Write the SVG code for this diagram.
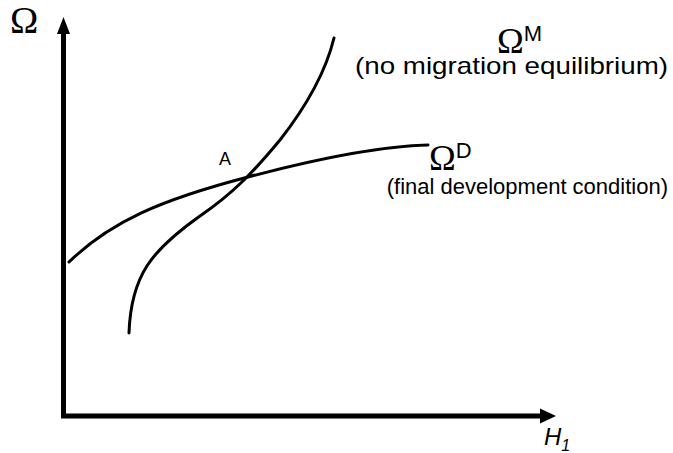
<svg xmlns="http://www.w3.org/2000/svg" width="673" height="453" viewBox="0 0 673 453">
<style>
.axis{stroke:#000;stroke-width:5;fill:none}
.curve{stroke:#000;stroke-width:3;fill:none;stroke-linecap:round}
.sym{font-family:"Liberation Serif","Times New Roman",serif;fill:#000}
.lbl{font-family:"Liberation Sans",Arial,sans-serif;fill:#000}
</style>
<rect width="673" height="453" fill="#fff"/>
<g id="axes">
<path class="axis" d="M63.5,416 L63.5,34"/>
<path d="M57,34 L63.5,17 L70,34 Z" fill="#000"/>
<path class="axis" d="M61,416 L540,416"/>
<path d="M540,408.5 L556,416 L540,423.5 Z" fill="#000"/>
</g>
<g id="connectors">
<path id="curveD" class="curve" d="M69,262 C110,222 160,200 248,177 C320,158 380,146 428,145"/>
<path id="curveM" class="curve" d="M129,333 C131,275 152,250 200,216 C235,192 255,170 280,140 C305,108 325,75 334,38"/>
</g>
<g id="label-omega-axis"><text class="sym" x="10" y="33" font-size="38">Ω</text></g>
<g id="label-h1"><text class="lbl" x="544" y="445" font-size="24" font-style="italic">H<tspan font-size="16" dy="6">1</tspan></text></g>
<g id="label-A"><text class="lbl" x="219" y="165" font-size="18">A</text></g>
<g id="node-M">
<text class="sym" x="497" y="53" font-size="36">Ω<tspan class="lbl" font-size="22" dy="-12">M</tspan></text>
<text class="lbl" x="355" y="74" font-size="24" textLength="313" lengthAdjust="spacingAndGlyphs">(no migration equilibrium)</text>
</g>
<g id="node-D">
<text class="sym" x="429" y="170" font-size="36">Ω<tspan class="lbl" font-size="22" dy="-12">D</tspan></text>
<text class="lbl" x="668" y="194" font-size="22" text-anchor="end">(final development condition)</text>
</g>
</svg>
